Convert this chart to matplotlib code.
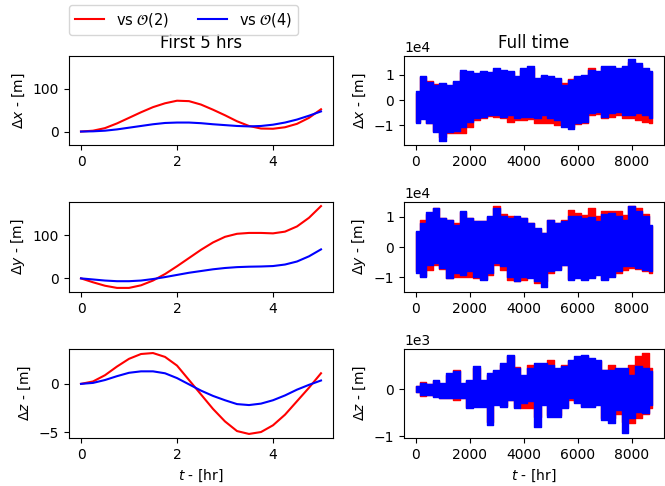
import numpy as np
import matplotlib
matplotlib.use("Agg")
import matplotlib.pyplot as plt
from matplotlib.lines import Line2D
from matplotlib.ticker import MultipleLocator

# ---------------- data: first 5 hours ----------------
t_short = [0, 0.25, 0.5, 0.75, 1, 1.25, 1.5, 1.75, 2, 2.25, 2.5, 2.75, 3, 3.25,
           3.5, 3.75, 4, 4.25, 4.5, 4.75, 5]
dx_o2 = [0, 2, 8, 19, 32, 45, 57, 66, 72, 71, 63, 51, 38, 24, 13, 7, 6.5, 10, 18, 32, 52]
dx_o4 = [0, 0.5, 2, 5, 9, 13, 17, 20, 21, 21, 19.5, 17, 15, 13, 12, 13, 16, 21, 28, 37, 47]
dy_o2 = [0, -9, -17, -22, -22, -16, -5, 10, 28, 47, 66, 83, 96, 103, 105, 105, 104, 108,
         120, 140, 167]
dy_o4 = [0, -2.5, -5, -6.5, -6.5, -5, -1.5, 3, 8, 13, 17, 21, 24, 26, 27, 27.5, 28.5, 32,
         39, 51, 67]
dz_o2 = [0, 0.25, 0.9, 1.8, 2.6, 3.1, 3.2, 2.8, 1.9, 0.4, -1.1, -2.6, -3.9, -4.9, -5.2,
         -5.0, -4.3, -3.2, -1.8, -0.4, 1.1]
dz_o4 = [0, 0.1, 0.4, 0.8, 1.15, 1.3, 1.3, 1.1, 0.6, -0.05, -0.7, -1.25, -1.7, -2.1, -2.2,
         -2.05, -1.7, -1.2, -0.6, -0.1, 0.35]

# ---------------- data: full time (envelopes of dense oscillation) ----------------
t_full = [0, 50] + list(range(250, 8501, 250)) + [8760]

# delta x, units of 1e4 m
dx2_up = [0, 0.3, 0.9, 0.75, 0.65, 0.62, 0.55, 0.7, 1.1, 1.1, 1.0, 1.1, 1.05, 1.2, 1.1, 1.1,
          0.9, 1.2, 1.25, 0.85, 0.95, 0.9, 0.85, 0.68, 0.85, 0.9, 0.95, 1.28, 1.1, 1.3, 1.3,
          1.2, 1.3, 1.5, 1.4, 1.2, 1.1]
dx2_lo = [0, -0.85, -0.7, -0.9, -1.2, -1.45, -1.3, -1.3, -1.3, -1.05, -0.78, -0.7, -0.62,
          -0.65, -0.72, -0.85, -0.78, -0.78, -0.75, -0.92, -0.92, -0.92, -1.0, -1.0, -1.05,
          -0.95, -0.9, -0.6, -0.55, -0.7, -0.65, -0.6, -0.7, -0.72, -0.78, -0.85, -0.92]
dx4_up = [0, 0.35, 0.95, 0.72, 0.6, 0.67, 0.6, 0.75, 1.2, 1.15, 1.08, 1.15, 1.12, 1.25, 1.17,
          1.15, 0.95, 1.28, 1.35, 0.88, 0.99, 0.95, 0.88, 0.61, 0.81, 0.95, 1.0, 1.2, 1.15,
          1.35, 1.35, 1.28, 1.35, 1.61, 1.48, 1.28, 1.15]
dx4_lo = [0, -0.9, -0.75, -0.92, -1.25, -1.6, -1.25, -1.2, -1.05, -0.85, -0.72, -0.65, -0.58,
          -0.58, -0.65, -0.6, -0.72, -0.65, -0.65, -0.72, -0.58, -0.72, -0.78, -1.05, -1.12,
          -0.92, -0.85, -0.52, -0.45, -0.65, -0.52, -0.45, -0.58, -0.58, -0.52, -0.58, -0.72]

# delta y, units of 1e4 m
dy2_up = [0, 0.5, 0.91, 1.1, 1.3, 0.95, 0.88, 0.8, 1.15, 0.95, 0.85, 0.85, 1.0, 1.35, 1.08,
          1.02, 1.0, 0.95, 0.78, 0.6, 0.45, 0.88, 0.78, 0.9, 1.24, 1.13, 1.05, 1.3, 1.03,
          1.19, 1.19, 1.19, 1.05, 1.35, 1.3, 1.08, 0.7]
dy2_lo = [0, -0.8, -0.95, -0.76, -0.6, -0.72, -1.03, -0.98, -0.98, -0.98, -1.03, -1.05,
          -0.92, -0.6, -0.76, -1.09, -1.14, -1.09, -1.0, -1.2, -1.14, -0.86, -0.72, -0.6,
          -1.05, -1.0, -1.05, -1.0, -0.9, -1.05, -0.95, -0.85, -0.76, -0.7, -0.72, -0.8, -0.87]
dy4_up = [0, 0.52, 0.8, 1.15, 1.3, 0.97, 0.91, 0.74, 1.19, 0.97, 0.86, 0.86, 1.03, 1.3, 1.03,
          0.97, 1.03, 0.97, 0.8, 0.63, 0.47, 0.91, 0.8, 0.86, 1.03, 1.03, 0.97, 1.0, 0.86,
          1.08, 1.13, 1.03, 0.91, 1.35, 1.19, 1.03, 0.74]
dy4_lo = [0, -0.87, -0.98, -0.59, -0.53, -0.7, -1.03, -0.87, -0.92, -0.81, -0.98, -1.09,
          -0.87, -0.53, -0.64, -0.98, -1.14, -0.98, -1.03, -1.14, -1.31, -0.81, -0.76, -0.59,
          -1.09, -1.03, -1.09, -1.03, -0.92, -1.09, -0.98, -0.81, -0.64, -0.64, -0.7, -0.76,
          -0.81]

# delta z, units of 1e3 m
dz2_up = [0, 0.06, 0.15, 0.11, 0.18, 0.12, 0.3, 0.42, 0.12, 0.18, 0.45, 0.18, 0.3, 0.38,
          0.52, 0.7, 0.48, 0.28, 0.52, 0.52, 0.52, 0.63, 0.42, 0.52, 0.6, 0.65, 0.7, 0.62,
          0.6, 0.41, 0.52, 0.38, 0.42, 0.52, 0.7, 0.77, 0.45]
dz2_lo = [0, -0.05, -0.15, -0.12, -0.15, -0.18, -0.18, -0.23, -0.18, -0.38, -0.35, -0.35,
          -0.7, -0.32, -0.35, -0.22, -0.38, -0.4, -0.4, -0.6, -0.32, -0.55, -0.55, -0.38,
          -0.23, -0.28, -0.35, -0.35, -0.32, -0.62, -0.62, -0.52, -0.69, -0.73, -0.62, -0.52,
          -0.41]
dz4_up = [0, 0.06, 0.13, 0.11, 0.2, 0.13, 0.34, 0.38, 0.13, 0.2, 0.49, 0.2, 0.34, 0.41, 0.56,
          0.74, 0.45, 0.31, 0.45, 0.56, 0.56, 0.52, 0.45, 0.49, 0.63, 0.7, 0.74, 0.67, 0.63,
          0.41, 0.41, 0.45, 0.45, 0.31, 0.49, 0.45, 0.38]
dz4_lo = [0, -0.05, -0.12, -0.12, -0.16, -0.19, -0.19, -0.19, -0.19, -0.41, -0.37, -0.37,
          -0.76, -0.34, -0.37, -0.23, -0.41, -0.3, -0.25, -0.8, -0.34, -0.59, -0.59, -0.41,
          -0.19, -0.3, -0.37, -0.37, -0.34, -0.66, -0.73, -0.44, -0.94, -0.62, -0.48, -0.51,
          -0.34]

labels = [r"vs $\mathcal{O}(2)$", r"vs $\mathcal{O}(4)$"]
ylabels = [r"$\Delta x$ - [m]", r"$\Delta y$ - [m]", r"$\Delta z$ - [m]"]

# ---------------- figure ----------------
W, H = 665, 486
fig = plt.figure(figsize=(W / 100, H / 100), dpi=100)


def rect(x0, y0, x1, y1):
    return [x0 / W, 1 - y1 / H, (x1 - x0) / W, (y1 - y0) / H]


rows = [(56, 145), (202, 292), (349, 438)]
axL = [fig.add_axes(rect(69, r0, 333, r1)) for r0, r1 in rows]
axR = [fig.add_axes(rect(404, r0, 664, r1)) for r0, r1 in rows]
axL[0].sharey(axL[1])

short = [(dx_o2, dx_o4), (dy_o2, dy_o4), (dz_o2, dz_o4)]
for ax, (a, b), yl in zip(axL, short, ylabels):
    ax.plot(t_short, a, color="red", lw=1.5)
    ax.plot(t_short, b, color="blue", lw=1.5)
    ax.set_ylabel(yl)
    ax.xaxis.set_major_locator(MultipleLocator(2))

scales = [1e4, 1e4, 1e3]
full = [(dx2_up, dx2_lo, dx4_up, dx4_lo),
        (dy2_up, dy2_lo, dy4_up, dy4_lo),
        (dz2_up, dz2_lo, dz4_up, dz4_lo)]
ylims = [(-1.77, 1.74), (-1.49, 1.49), (-1.04, 0.86)]
for ax, (r_up, r_lo, b_up, b_lo), s, yl, lim in zip(axR, full, scales, ylabels, ylims):
    tt = np.array(t_full, dtype=float)
    ax.fill_between(tt, np.array(r_lo) * s, np.array(r_up) * s, step="mid",
                    facecolor="red", edgecolor="red", lw=1.0)
    ax.fill_between(tt, np.array(b_lo) * s, np.array(b_up) * s, step="mid",
                    facecolor="blue", edgecolor="blue", lw=1.0)
    ax.set_ylim(lim[0] * s, lim[1] * s)
    ax.set_ylabel(yl)
    ax.ticklabel_format(axis="y", style="sci", scilimits=(0, 0))

axL[0].set_title("First 5 hrs")
axR[0].set_title("Full time")
axL[2].set_xlabel(r"$t$ - [hr]")
axR[2].set_xlabel(r"$t$ - [hr]")

handles = [Line2D([], [], color="red", lw=1.5), Line2D([], [], color="blue", lw=1.5)]
fig.legend(handles, labels, loc="upper left", ncol=2, fontsize=10.5,
           bbox_to_anchor=(69 / W, 1 - 5 / H), borderaxespad=0)

fig.savefig("out.png", dpi=100)
